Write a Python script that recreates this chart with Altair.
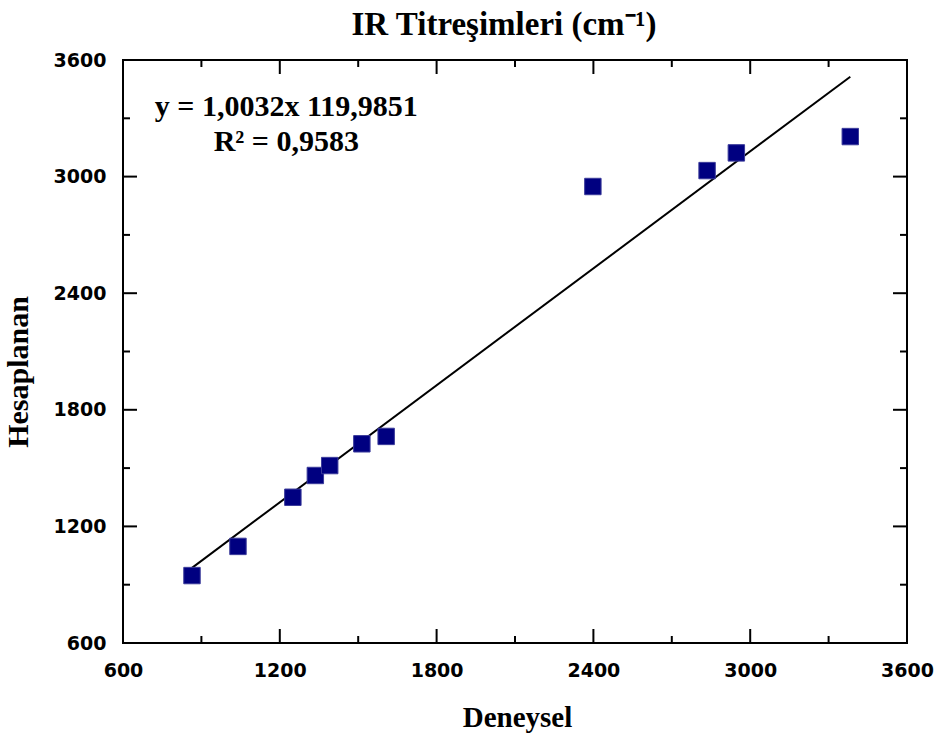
import altair as alt
import pandas as pd

# ---- data ----
deneysel = [864, 1040, 1250, 1336, 1391, 1514, 1607, 2398, 2835, 2947, 3383]
hesaplanan = [947, 1097, 1350, 1462, 1513, 1625, 1663, 2949, 3031, 3122, 3206]

major_ticks = [600, 1200, 1800, 2400, 3000, 3600]
minor_ticks = [900, 1500, 2100, 2700, 3300]

slope = 1.0032
intercept = 119.9851
fit_x = [min(deneysel), max(deneysel)]

eq_labels = ["y = 1,0032x 119,9851", "R² = 0,9583"]
eq_x = [1225, 1225]
eq_y = [3312, 3134]

title_text = ["IR Titreşimleri (cm⁻¹)"]
x_title = "Deneysel"
y_title = "Hesaplanan"

W, H = 784, 583
MAJ, MIN = 14, 7

pts = pd.DataFrame({"x": deneysel, "y": hesaplanan})
fit = pd.DataFrame({"x": fit_x})
ann = pd.DataFrame({"x": eq_x, "y": eq_y, "t": eq_labels})
maj = pd.DataFrame({"v": major_ticks})
mnr = pd.DataFrame({"v": minor_ticks})
ttl = pd.DataFrame({"t": title_text})

xs = alt.Scale(domain=[600, 3600], nice=False, zero=False)
ys = alt.Scale(domain=[600, 3600], nice=False, zero=False)

x_axis = alt.Axis(values=major_ticks, format="d", ticks=False, tickSize=0, domain=False, grid=False,
                  labelFont="DejaVu Sans", labelFontWeight="bold", labelFontSize=19,
                  labelColor="black", labelPadding=18, labelFlush=False,
                  title=x_title, titleFont="Liberation Serif", titleFontSize=29,
                  titleFontWeight="bold", titleColor="black", titleX=394, titleY=83.5,
                  titleBaseline="alphabetic")
y_axis = alt.Axis(values=major_ticks, format="d", ticks=False, tickSize=0, domain=False, grid=False,
                  labelFont="DejaVu Sans", labelFontWeight="bold", labelFontSize=19,
                  labelColor="black", labelPadding=17, labelFlush=False,
                  title=y_title, titleFont="Liberation Serif", titleFontSize=30,
                  titleFontWeight="bold", titleColor="black", titleX=-95.4, titleY=311.5,
                  titleBaseline="alphabetic", titleAngle=270)


def X(field):
    return alt.X(field, type="quantitative", scale=xs, axis=x_axis)


def Y(field):
    return alt.Y(field, type="quantitative", scale=ys, axis=y_axis)


points = alt.Chart(pts).mark_square(size=270, fill="#000080", stroke="#3a3a9a",
                                     strokeWidth=1, opacity=1).encode(x=X("x"), y=Y("y"))

line = alt.Chart(fit).transform_calculate(
    yfit=f"{slope} * datum.x + {intercept}"
).mark_line(color="black", strokeWidth=2).encode(x=X("x"), y=Y("yfit"))

text = alt.Chart(ann).mark_text(font="Liberation Serif", fontSize=30, fontWeight="bold",
                                align="center", baseline="alphabetic", color="black").encode(
    x=X("x"), y=Y("y"), text="t:N")

title = alt.Chart(ttl).mark_text(font="Liberation Serif", fontSize=33, fontWeight="bold",
                                 align="center", baseline="alphabetic", color="black").encode(
    x=alt.value(381), y=alt.value(-25), text="t:N")

rule = dict(color="black", strokeWidth=2)
tb_maj = alt.Chart(maj).mark_rule(**rule).encode(x=X("v"), y=alt.value(H), y2=alt.value(H - MAJ))
tt_maj = alt.Chart(maj).mark_rule(**rule).encode(x=X("v"), y=alt.value(0), y2=alt.value(MAJ))
tb_min = alt.Chart(mnr).mark_rule(**rule).encode(x=X("v"), y=alt.value(H), y2=alt.value(H - MIN))
tt_min = alt.Chart(mnr).mark_rule(**rule).encode(x=X("v"), y=alt.value(0), y2=alt.value(MIN))
tl_maj = alt.Chart(maj).mark_rule(**rule).encode(y=Y("v"), x=alt.value(0), x2=alt.value(MAJ))
tr_maj = alt.Chart(maj).mark_rule(**rule).encode(y=Y("v"), x=alt.value(W), x2=alt.value(W - MAJ))
tl_min = alt.Chart(mnr).mark_rule(**rule).encode(y=Y("v"), x=alt.value(0), x2=alt.value(MIN))
tr_min = alt.Chart(mnr).mark_rule(**rule).encode(y=Y("v"), x=alt.value(W), x2=alt.value(W - MIN))

chart = alt.layer(
    tb_maj, tt_maj, tb_min, tt_min, tl_maj, tr_maj, tl_min, tr_min, line, points, text, title
).properties(
    width=W, height=H,
    autosize=alt.AutoSizeParams(type="none"),
    padding={"left": 123, "top": 60, "right": 31, "bottom": 95},
    background="white",
).configure_view(stroke="black", strokeWidth=2)

chart.save("out.html", embed_options={"renderer": "svg", "actions": False})
